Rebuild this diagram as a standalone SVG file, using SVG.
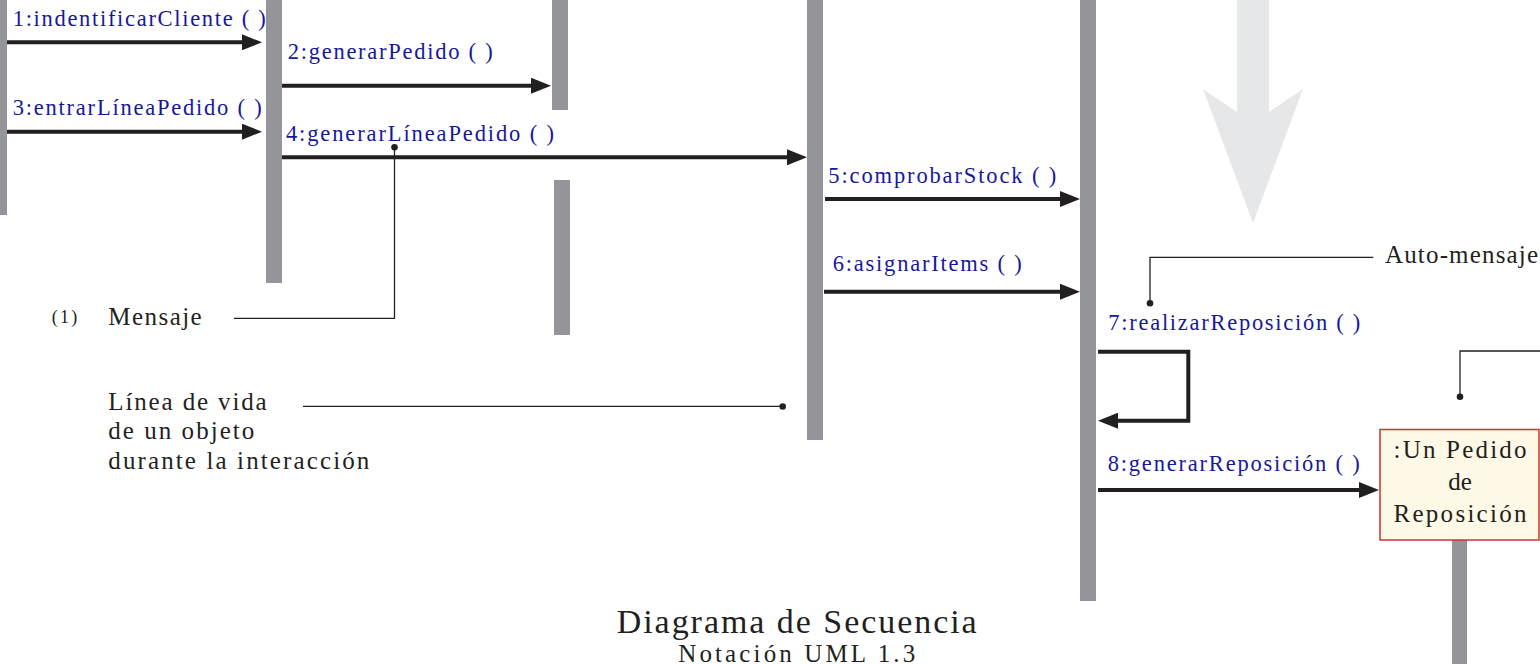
<svg xmlns="http://www.w3.org/2000/svg" width="1540" height="664" viewBox="0 0 1540 664">
<style>
.life{fill:#939598}
.msg{stroke:#231f20;stroke-width:4;fill:none;marker-end:url(#ah)}
.note{stroke:#231f20;stroke-width:1.3;fill:none}
.dot{fill:#231f20}
.lbl{font-family:"Liberation Serif","Times New Roman",serif;font-size:22.5px;fill:#16189c}
.txt{font-family:"Liberation Serif","Times New Roman",serif;font-size:25px;fill:#231f20}
</style>
<defs>
<marker id="ah" viewBox="0 0 20 16" refX="1" refY="8" markerWidth="20" markerHeight="16" markerUnits="userSpaceOnUse" orient="auto">
<path d="M0,0 L20,8 L0,16 z" fill="#231f20"/>
</marker>
</defs>
<rect width="1540" height="664" fill="#ffffff"/>
<g id="time-arrow">
<polygon points="1237,0 1269,0 1269,112 1303,89 1253,223 1203,89 1237,112" fill="#e6e7e8"/>
</g>
<g id="lifeline-cliente"><rect class="life" x="0" y="0" width="7" height="215"/></g>
<g id="lifeline-2"><rect class="life" x="266" y="0" width="16" height="283"/></g>
<g id="lifeline-3"><rect class="life" x="552" y="0" width="16" height="110"/><rect class="life" x="554" y="180" width="16" height="155"/></g>
<g id="lifeline-4"><rect class="life" x="807" y="0" width="16" height="440"/></g>
<g id="lifeline-5"><rect class="life" x="1080" y="0" width="16" height="601"/></g>
<g id="pedido-reposicion">
<rect class="life" x="1452" y="540" width="15" height="124"/>
<rect x="1380" y="429.5" width="159" height="110.5" fill="#fef8e6" stroke="#cc3333" stroke-width="1.5"/>
<text class="txt" x="1460" y="458.3" text-anchor="middle" textLength="133" lengthAdjust="spacing">:Un Pedido</text>
<text class="txt" x="1460" y="490" text-anchor="middle">de</text>
<text class="txt" x="1460" y="521.7" text-anchor="middle" textLength="133" lengthAdjust="spacing">Reposición</text>
</g>
<g id="connectors">
<path class="msg" d="M7,42.3 H243"/>
<path class="msg" d="M282,85.7 H532"/>
<path class="msg" d="M7,131.7 H243"/>
<path class="msg" d="M282,157.3 H788"/>
<path class="msg" d="M825,199 H1061"/>
<path class="msg" d="M824,291.7 H1061"/>
<path class="msg" d="M1098,351.7 H1188.3 V420.7 H1117"/>
<path class="msg" d="M1098,490 H1360"/>
</g>
<g id="message-labels">
<text class="lbl" x="12.7" y="26" textLength="253" lengthAdjust="spacing">1:indentificarCliente ( )</text>
<text class="lbl" x="287.7" y="59" textLength="205" lengthAdjust="spacing">2:generarPedido ( )</text>
<text class="lbl" x="12.7" y="115" textLength="249" lengthAdjust="spacing">3:entrarLíneaPedido ( )</text>
<text class="lbl" x="286" y="141" textLength="268" lengthAdjust="spacing">4:generarLíneaPedido ( )</text>
<text class="lbl" x="828.3" y="183.3" textLength="228" lengthAdjust="spacing">5:comprobarStock ( )</text>
<text class="lbl" x="832.7" y="270.7" textLength="189" lengthAdjust="spacing">6:asignarItems ( )</text>
<text class="lbl" x="1108.3" y="330" textLength="252" lengthAdjust="spacing">7:realizarReposición ( )</text>
<text class="lbl" x="1107.7" y="471" textLength="252" lengthAdjust="spacing">8:generarReposición ( )</text>
</g>
<g id="note-mensaje">
<path class="note" d="M234,318.3 H394.5 V147.3"/>
<circle class="dot" cx="394.5" cy="147.3" r="3.3"/>
<text class="txt" x="51.7" y="323.3" style="font-size:18px" textLength="25.6" lengthAdjust="spacing">(1)</text>
<text class="txt" x="108.3" y="325" textLength="93.4" lengthAdjust="spacing">Mensaje</text>
</g>
<g id="note-linea-vida">
<path class="note" d="M303,406.3 H782.7"/>
<circle class="dot" cx="782.7" cy="406.5" r="3.3"/>
<text class="txt" x="108.3" y="410" textLength="158.4" lengthAdjust="spacing">Línea de vida</text>
<text class="txt" x="108.3" y="439.3" textLength="146" lengthAdjust="spacing">de un objeto</text>
<text class="txt" x="108.3" y="469.3" textLength="261" lengthAdjust="spacing">durante la interacción</text>
</g>
<g id="note-auto-mensaje">
<path class="note" d="M1373.3,257.3 H1150 V303.3"/>
<circle class="dot" cx="1150" cy="303.3" r="3.3"/>
<text class="txt" x="1385" y="263.3" textLength="153" lengthAdjust="spacing">Auto-mensaje</text>
</g>
<g id="note-objeto">
<path class="note" d="M1540,351 H1460 V396.7"/>
<circle class="dot" cx="1460" cy="396.7" r="3.3"/>
</g>
<g id="title">
<text class="txt" x="796.7" y="633.3" text-anchor="middle" style="font-size:34px" textLength="360" lengthAdjust="spacing">Diagrama de Secuencia</text>
<text class="txt" x="796.7" y="661.5" text-anchor="middle" textLength="237" lengthAdjust="spacing">Notación UML 1.3</text>
</g>
</svg>
